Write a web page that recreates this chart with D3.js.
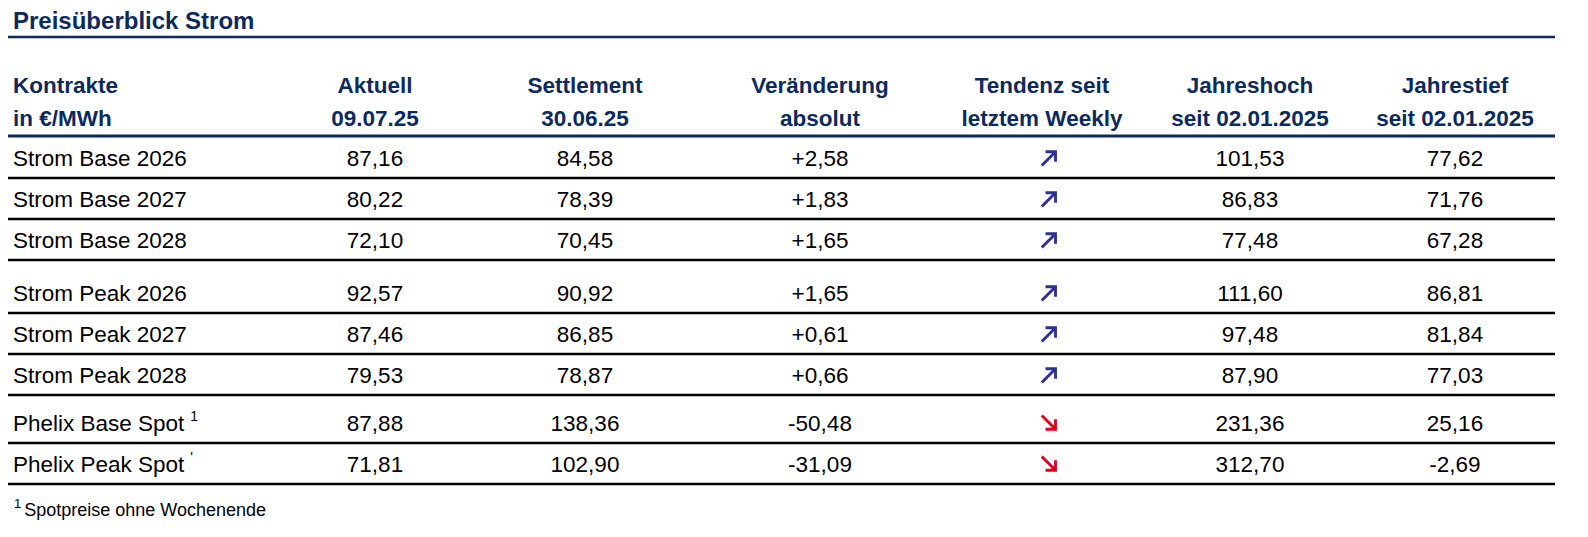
<!DOCTYPE html>
<html>
<head>
<meta charset="utf-8">
<script src="https://cdn.jsdelivr.net/npm/d3@7"></script>
<style>
  body { margin: 0; background: #fff; }
  text { font-family: "Liberation Sans", Arial, sans-serif; }
</style>
</head>
<body>
<svg id="chart" width="1588" height="537"></svg>
<script>
// table data
var headers1 = ["Kontrakte", "Aktuell", "Settlement", "Veränderung", "Tendenz seit", "Jahreshoch", "Jahrestief"];
var headers2 = ["in €/MWh", "09.07.25", "30.06.25", "absolut", "letztem Weekly", "seit 02.01.2025", "seit 02.01.2025"];
var contracts = ["Strom Base 2026", "Strom Base 2027", "Strom Base 2028",
                 "Strom Peak 2026", "Strom Peak 2027", "Strom Peak 2028",
                 "Phelix Base Spot", "Phelix Peak Spot"];
var groups = [0, 0, 0, 1, 1, 1, 2, 2];
var aktuell = ["87,16", "80,22", "72,10", "92,57", "87,46", "79,53", "87,88", "71,81"];
var settlement = ["84,58", "78,39", "70,45", "90,92", "86,85", "78,87", "138,36", "102,90"];
var change = ["+2,58", "+1,83", "+1,65", "+1,65", "+0,61", "+0,66", "-50,48", "-31,09"];
var trend = ["up", "up", "up", "up", "up", "up", "down", "down"];
var yearHigh = ["101,53", "86,83", "77,48", "111,60", "97,48", "87,90", "231,36", "312,70"];
var yearLow = ["77,62", "71,76", "67,28", "86,81", "81,84", "77,03", "25,16", "-2,69"];
var footnoteMark = ["", "", "", "", "", "", "1", "'"];

var navy = "#0d2a5c";
var svg = d3.select("#chart");

var colX = [13, 375, 585, 820, 1042, 1250, 1455];
var left = 8, right = 1555;

// title
svg.append("text").attr("x", 13).attr("y", 29)
  .attr("font-size", 24).attr("font-weight", "bold").attr("fill", navy)
  .text("Preisüberblick Strom");
svg.append("line").attr("x1", left).attr("x2", right).attr("y1", 37).attr("y2", 37)
  .attr("stroke", navy).attr("stroke-width", 2.5);

// headers
[headers1, headers2].forEach(function(h, r) {
  svg.selectAll(null).data(h).enter().append("text")
    .attr("x", function(d, i) { return colX[i]; })
    .attr("y", 93 + r * 33)
    .attr("text-anchor", function(d, i) { return i === 0 ? "start" : "middle"; })
    .attr("font-size", 22.5).attr("font-weight", "bold").attr("fill", navy)
    .text(function(d) { return d; });
});
svg.append("line").attr("x1", left).attr("x2", right).attr("y1", 136).attr("y2", 136)
  .attr("stroke", navy).attr("stroke-width", 3);

// row positions: bottom lines, with extra gap between groups
var rowH = 41, groupGap = [0, 12, 19];
function lineY(i) { return 178 + i * rowH + groupGap[groups[i]]; }

var rows = svg.selectAll("g.row").data(contracts).enter().append("g")
  .attr("class", "row")
  .attr("transform", function(d, i) { return "translate(0," + lineY(i) + ")"; });

rows.append("line").attr("x1", left).attr("x2", right)
  .attr("stroke", "#000").attr("stroke-width", 2.3);

rows.append("text").attr("x", colX[0]).attr("y", -12).attr("font-size", 22.5).attr("fill", "#000")
  .text(function(d) { return d; })
  .append("tspan").attr("font-size", 14).attr("dx", 6).attr("dy", -10)
  .text(function(d, i) { return footnoteMark[i]; });

[aktuell, settlement, change, null, yearHigh, yearLow].forEach(function(arr, k) {
  if (!arr) return;
  rows.append("text").attr("x", colX[k + 1]).attr("y", -12)
    .attr("text-anchor", "middle").attr("font-size", 22.5).attr("fill", "#000")
    .text(function(d, i) { return arr[i]; });
});

// trend arrows
rows.append("path")
  .attr("transform", function(d, i) {
    return "translate(" + (colX[4] + 6) + ",-20) scale(1.25," + (trend[i] === "down" ? -1.25 : 1.25) + ")";
  })
  .attr("d", "M-5,6 L5,-4 M-2,-5 L6,-5 L6,3")
  .attr("fill", "none").attr("stroke-width", 2.3).attr("stroke-linecap", "butt")
  .attr("stroke", function(d, i) { return trend[i] === "down" ? "#e3001b" : "#2e3192"; });

// footnote
var fn = svg.append("text").attr("x", 14).attr("y", 516).attr("font-size", 18).attr("fill", "#000");
fn.append("tspan").attr("font-size", 13).attr("dy", -8).text("1");
fn.append("tspan").attr("dx", 3).attr("dy", 8).text("Spotpreise ohne Wochenende");
</script>
</body>
</html>
